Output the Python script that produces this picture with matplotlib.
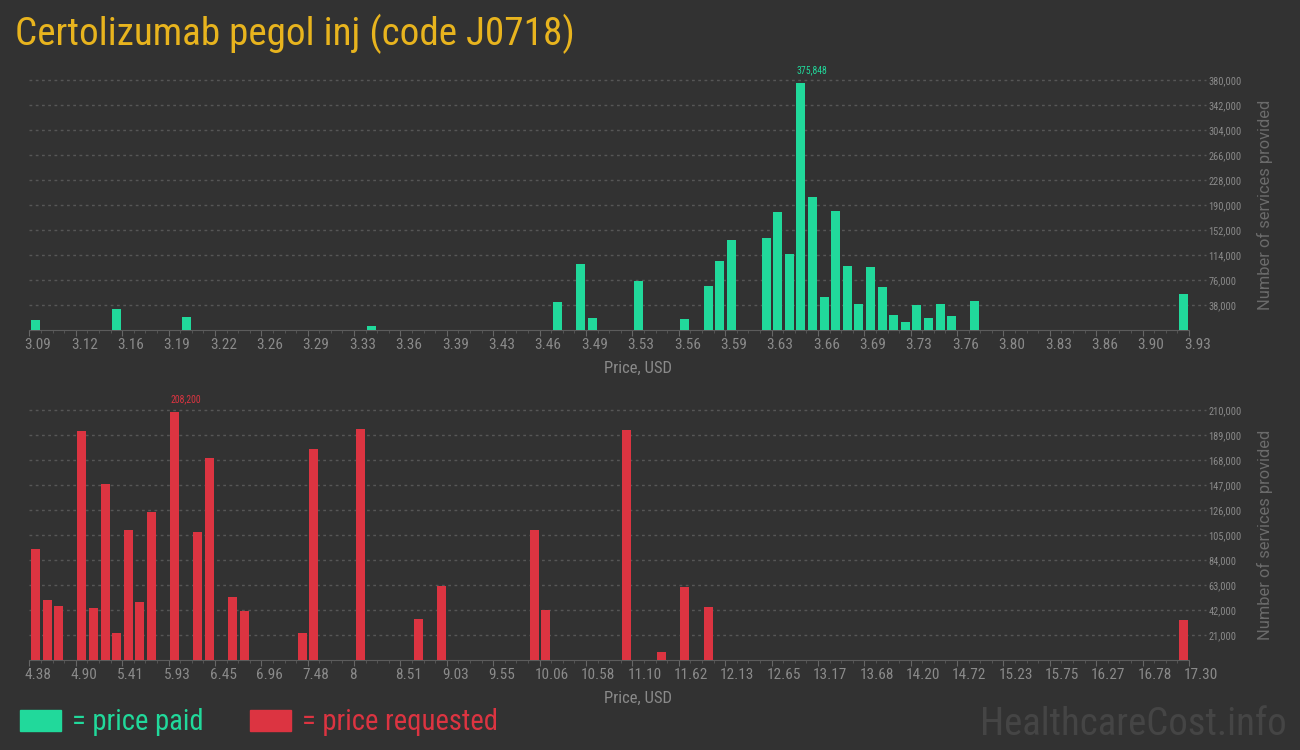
import matplotlib
matplotlib.use("Agg")
import matplotlib.pyplot as plt
import matplotlib.transforms as mtransforms
from matplotlib import font_manager
from matplotlib.patches import Rectangle

# ---------------------------------------------------------------
# Data (histogram bins: 100 equal-width price bins per panel)
# ---------------------------------------------------------------
paid_ticks = ["3.09", "3.12", "3.16", "3.19", "3.22", "3.26", "3.29", "3.33", "3.36",
              "3.39", "3.43", "3.46", "3.49", "3.53", "3.56", "3.59", "3.63", "3.66",
              "3.69", "3.73", "3.76", "3.80", "3.83", "3.86", "3.90", "3.93"]
paid_bins = [0, 7, 13, 29, 45, 47, 48, 52, 56, 58, 59, 60, 63, 64, 65, 66, 67, 68,
             69, 70, 71, 72, 73, 74, 75, 76, 77, 78, 79, 81, 99]
paid_counts = [15700, 32400, 20300, 6600, 43000, 100800, 18700, 75000, 17200, 67400,
               105400, 137300, 140400, 179900, 116000, 375848, 202700, 50700, 181400,
               97800, 40000, 96300, 65900, 23300, 12700, 38500, 18700, 40000, 21800,
               44600, 55200]
paid_yticks = [38000, 76000, 114000, 152000, 190000, 228000, 266000, 304000, 342000, 380000]

req_ticks = ["4.38", "4.90", "5.41", "5.93", "6.45", "6.96", "7.48", "8", "8.51", "9.03",
             "9.55", "10.06", "10.58", "11.10", "11.62", "12.13", "12.65", "13.17",
             "13.68", "14.20", "14.72", "15.23", "15.75", "16.27", "16.78", "17.30"]
req_bins = [0, 1, 2, 4, 5, 6, 7, 8, 9, 10, 12, 14, 15, 17, 18, 23, 24, 28, 33, 35,
            43, 44, 51, 54, 56, 58, 99]
req_counts = [93500, 50700, 45600, 192600, 44000, 148100, 23000, 109500, 49000, 124600,
              208200, 107800, 170000, 53200, 41400, 23000, 177500, 194300, 34700, 62400,
              109500, 42300, 193500, 7000, 61600, 44800, 33900]
req_yticks = [21000, 42000, 63000, 84000, 105000, 126000, 147000, 168000, 189000, 210000]

N_BINS = 100

BG = "#323232"
GREEN = "#21d99b"
RED = "#dc3441"
GOLD = "#e8b41e"
TICK_GRAY = "#8a8a8a"
GRID_GRAY = "#565656"

_names = {f.name for f in font_manager.fontManager.ttflist}
COND = next((n for n in ["Roboto Condensed", "Liberation Sans Narrow", "Roboto"] if n in _names),
            "DejaVu Sans")
REG = "Roboto" if "Roboto" in _names else "DejaVu Sans"


def draw_panel(fig, rect, bins, counts, ticks, yticks, color):
    ax = fig.add_axes(rect)
    ax.set_facecolor(BG)
    xs = [b + 0.53 for b in bins]
    ax.bar(xs, counts, width=0.78, color=color, zorder=3)

    ax.set_xlim(0, N_BINS)
    ax.set_ylim(0, yticks[-1])

    ax.hlines(yticks, 0, 1.0147, transform=ax.get_yaxis_transform(), colors=GRID_GRAY,
              linestyles=(0, (2, 2.5)), linewidth=1, clip_on=False, zorder=1)

    for side in ("top", "left", "right"):
        ax.spines[side].set_visible(False)
    ax.spines["bottom"].set_color("#5c5c5c")

    major = list(range(0, N_BINS + 1, 4))
    ax.set_xticks(major)
    ax.set_xticks(range(0, N_BINS + 1), minor=True)
    ax.set_xticklabels([])
    ax.tick_params(axis="x", which="major", length=4, color="#666666")
    ax.tick_params(axis="x", which="minor", length=2, color="#5a5a5a")

    # tick labels start just left of their tick
    lab_tr = ax.get_xaxis_transform() + mtransforms.ScaledTranslation(
        -0.05, -0.08, fig.dpi_scale_trans)
    for pos, lab in zip(major, ticks):
        ax.text(pos, 0, lab, transform=lab_tr, family=COND, fontsize=11,
                color=TICK_GRAY, ha="left", va="top")

    ax.yaxis.tick_right()
    ax.set_yticks(yticks)
    ax.set_yticklabels([f"{v:,}" for v in yticks], family=COND, fontsize=7.5,
                       color=TICK_GRAY)
    ax.tick_params(axis="y", length=0, pad=14)

    ax.text(0.525, -0.152, "Price, USD", transform=ax.transAxes, family=COND,
            fontsize=12, color=TICK_GRAY, ha="center", va="center")
    ax.text(1.0655, 0.5, "Number of services provided", transform=ax.transAxes,
            family=REG, fontsize=11.8, color="#6b6b6b", rotation=90,
            ha="center", va="center")

    peak = max(range(len(counts)), key=lambda i: counts[i])
    ax.annotate(f"{counts[peak]:,}", xy=(bins[peak] + 0.14, counts[peak]),
                xytext=(0, 6), textcoords="offset points", ha="left", va="bottom",
                family=COND, fontsize=7, color=color, annotation_clip=False)
    return ax


fig = plt.figure(figsize=(13, 7.5), dpi=100)
fig.patch.set_facecolor(BG)

left = 29.4 / 1300
width = (1189 - 29.4) / 1300
draw_panel(fig, [left, 0.5596, width, 0.3333], paid_bins, paid_counts, paid_ticks,
           paid_yticks, GREEN)
draw_panel(fig, [left, 0.1196, width, 0.3333], req_bins, req_counts, req_ticks,
           req_yticks, RED)

fig.text(15 / 1300, 1 - 45 / 750, "Certolizumab pegol inj (code J0718)", family=COND,
         fontsize=28.2, color=GOLD, ha="left", va="baseline")

# legend
fig.patches.append(Rectangle((20 / 1300, 1 - 731 / 750), 41 / 1300, 21 / 750,
                             transform=fig.transFigure, color=GREEN))
fig.text(72 / 1300, 1 - 730 / 750, "= price paid", family=COND, fontsize=20.6,
         color=GREEN, ha="left", va="baseline")
fig.patches.append(Rectangle((250 / 1300, 1 - 731 / 750), 41 / 1300, 21 / 750,
                             transform=fig.transFigure, color=RED))
fig.text(302 / 1300, 1 - 730 / 750, "= price requested", family=COND, fontsize=20.6,
         color=RED, ha="left", va="baseline")

fig.text(1287 / 1300, 1 - 735 / 750, "HealthcareCost.info", family=COND, fontsize=28,
         color="#454545", ha="right", va="baseline")

fig.savefig("out.png", dpi=100, facecolor=BG)
